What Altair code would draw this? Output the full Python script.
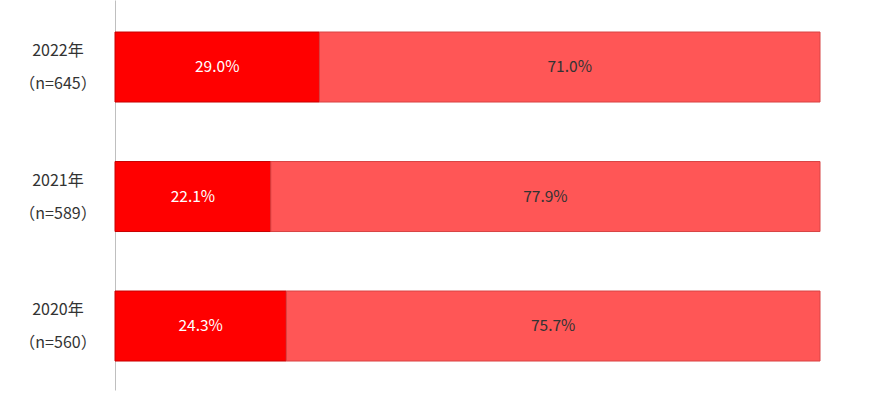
import altair as alt
import pandas as pd

years = ["2022年", "2021年", "2020年"]
ns = ["（n=645）", "（n=589）", "（n=560）"]
first_share = [29.0, 22.1, 24.3]
second_share = [71.0, 77.9, 75.7]
segments = ["A", "B"]
colors = ["#FF0000", "#FF5656"]
strokes = ["#C80000", "#D84444"]
text_colors = ["#FFFFFF", "#333333"]

rows = []
for y, n, a, b in zip(years, ns, first_share, second_share):
    rows.append({"year": y, "n": n, "seg": "A", "order": 0, "value": a})
    rows.append({"year": y, "n": n, "seg": "B", "order": 1, "value": b})
df = pd.DataFrame(rows)
lab = pd.DataFrame({"year": years, "n": ns})

yenc = alt.Y("year:N", sort=years,
             scale=alt.Scale(paddingInner=0.4595, paddingOuter=0.2355, align=0.525),
             axis=alt.Axis(labels=False, ticks=False, title=None, grid=False,
                           domain=True, domainColor="#BFBFBF", domainWidth=1))

base = alt.Chart(df).transform_stack(
    stack="value", groupby=["year"], as_=["x0", "x1"],
    sort=[alt.SortField("order", order="ascending")]
).transform_calculate(mid="(datum.x0 + datum.x1) / 2",
                      label="format(datum.value, '.1f') + '%'")

xscale = alt.Scale(domain=[0, 100], nice=False, zero=True)

bars = base.mark_bar(strokeWidth=1).encode(
    x=alt.X("x0:Q", scale=xscale, axis=None),
    x2="x1:Q",
    y=yenc,
    color=alt.Color("seg:N", scale=alt.Scale(domain=segments, range=colors), legend=None),
    stroke=alt.Stroke("seg:N", scale=alt.Scale(domain=segments, range=strokes), legend=None),
)

texts = base.mark_text(fontSize=15.5, font="Noto Sans CJK JP").encode(
    x=alt.X("mid:Q", scale=xscale, axis=None),
    y=alt.Y("year:N", sort=years),
    text="label:N",
    color=alt.Color("seg:N", scale=alt.Scale(domain=segments, range=text_colors), legend=None),
)

labbase = alt.Chart(lab)
ylab = labbase.mark_text(fontSize=16, font="Noto Sans CJK JP", color="#333333", dy=-16, align="center").encode(
    x=alt.value(-57), y=alt.Y("year:N", sort=years), text="year:N")
nlab = labbase.mark_text(fontSize=16, font="Noto Sans CJK JP", color="#333333", dy=17, align="center").encode(
    x=alt.value(-57), y=alt.Y("year:N", sort=years), text="n:N")

chart = alt.layer(bars, texts, ylab, nlab).resolve_scale(color="independent").properties(
    width=705, height=390,
    background="white",
    autosize=alt.AutoSizeParams(type="none"),
    padding={"left": 115, "top": 0, "right": 50, "bottom": 3},
).configure_view(strokeWidth=0, stroke="transparent")

chart.save("out.html", embed_options={"renderer": "svg", "actions": False})
